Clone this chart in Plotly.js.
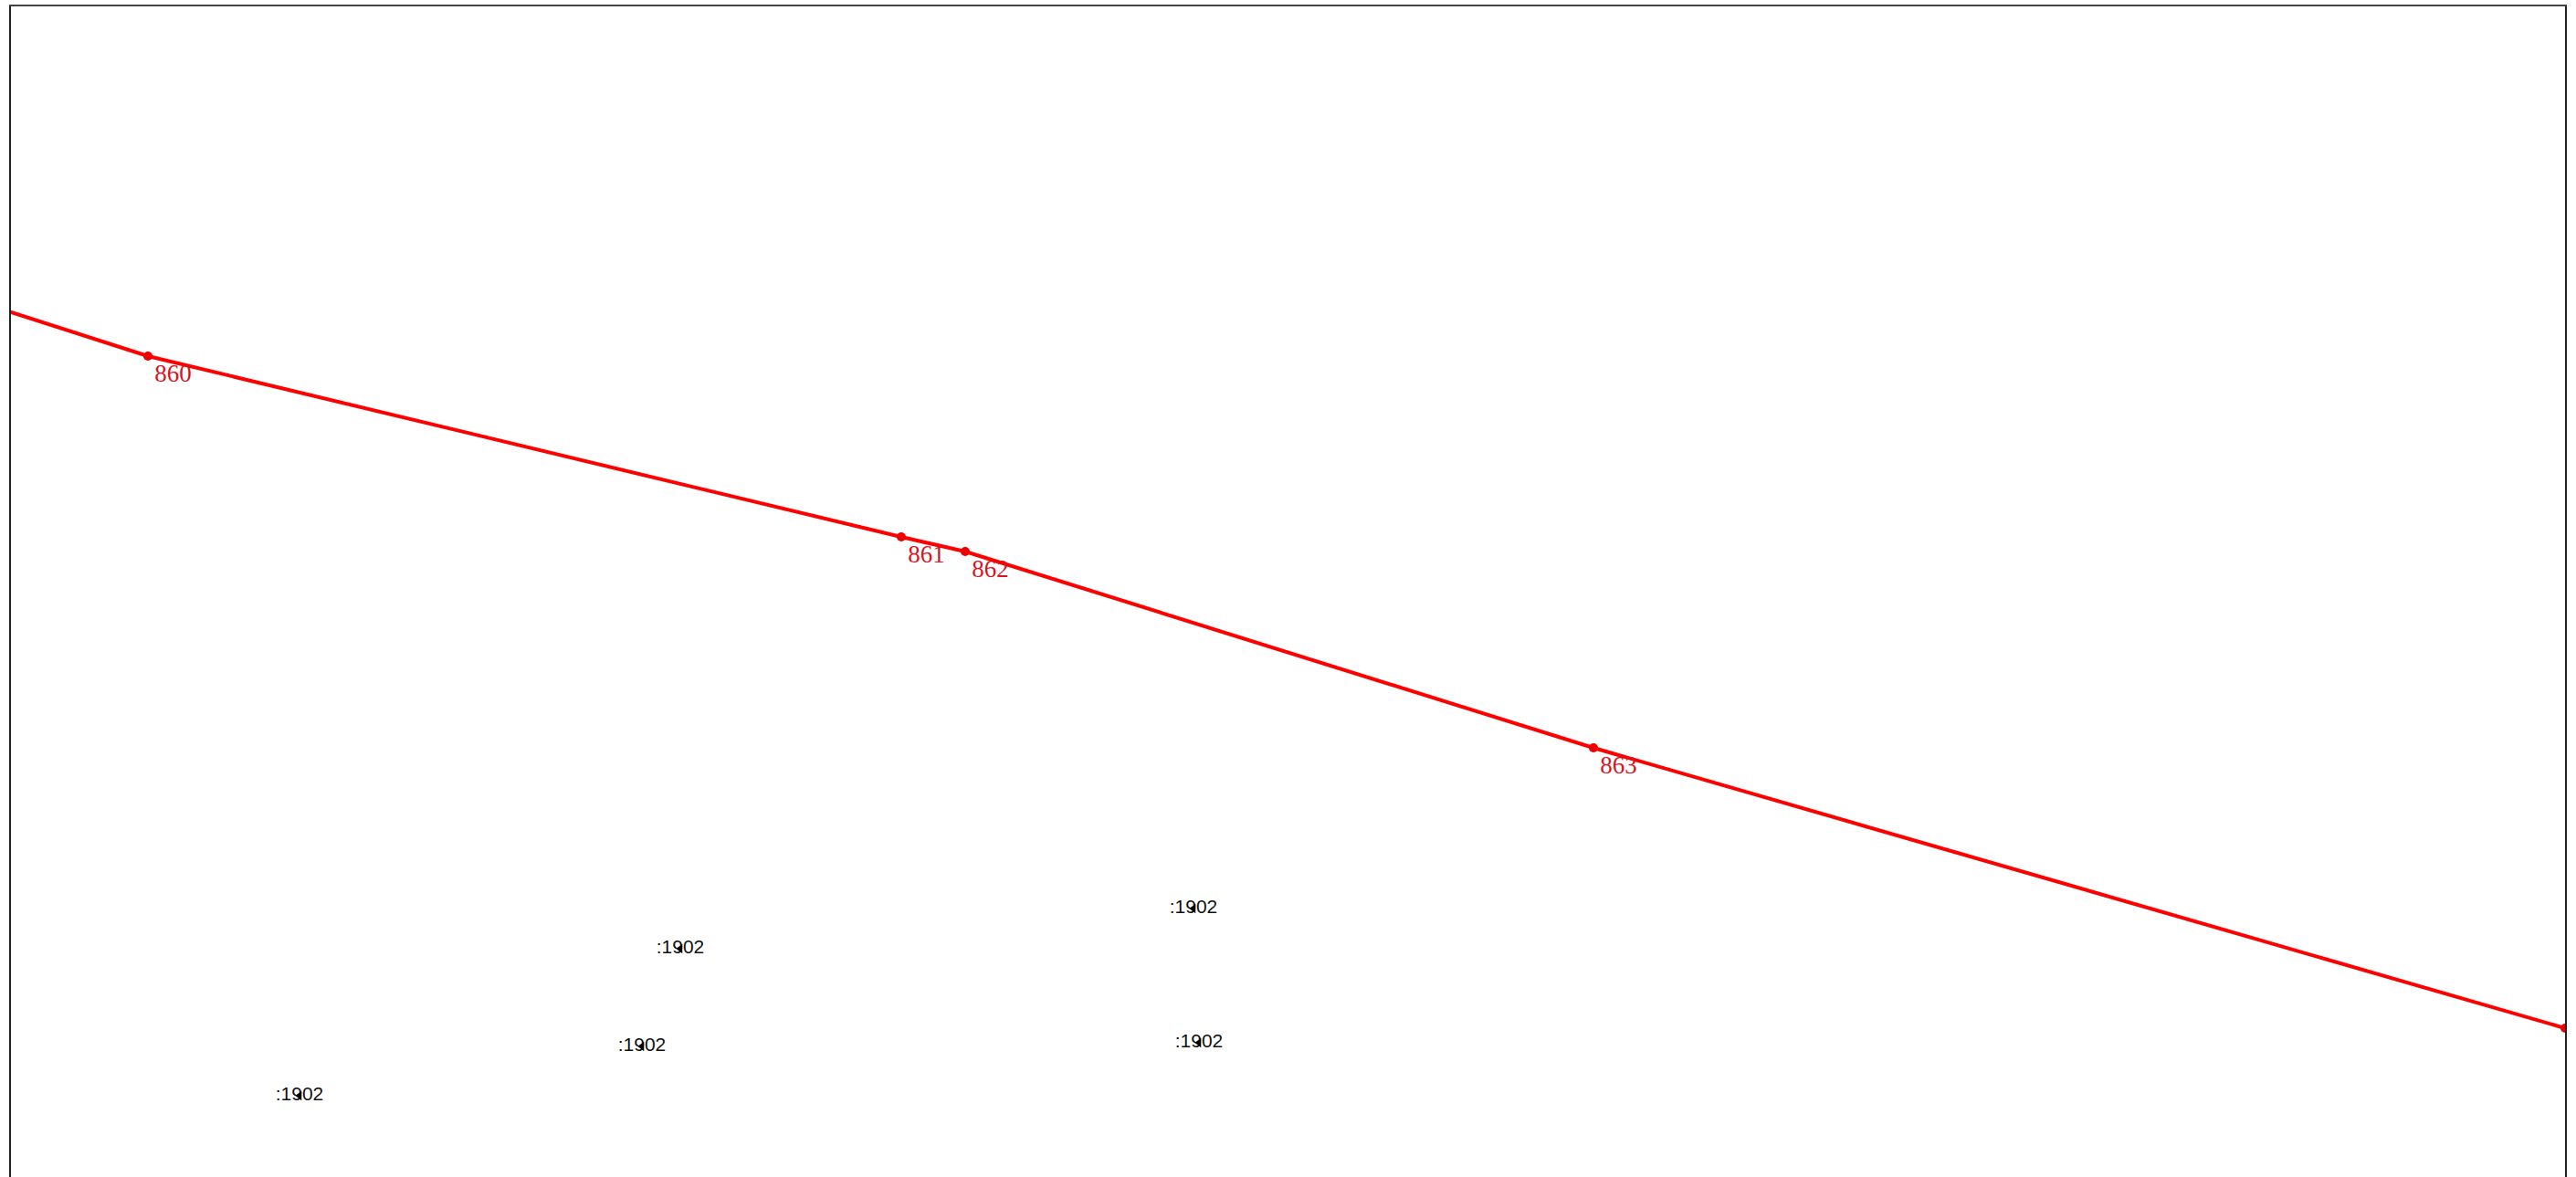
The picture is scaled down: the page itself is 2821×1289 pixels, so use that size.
<!DOCTYPE html>
<html>
<head>
<meta charset="utf-8">
<script src="https://cdn.plot.ly/plotly-3.0.1.min.js"></script>
<style>html,body{margin:0;padding:0;background:#fff;}#chart{width:2821px;height:1289px;}</style>
</head>
<body>
<div id="chart"></div>
<script>
// Red route: positions along the map (map units); first vertex lies just outside the frame
const routeX = [-40, 150, 975, 1045, 1733, 2797];
const routeY = [322, 383, 581, 597, 812, 1119];
const routeLabels = ['', '860', '861', '862', '863', ''];

// Black survey points
const pointX = [316, 733, 1295, 691, 1301];
const pointY = [1193, 1032, 988, 1139, 1135];
const pointLabels = [':1902', ':1902', ':1902', ':1902', ':1902'];

const traces = [
  {
    x: routeX, y: routeY, text: routeLabels,
    type: 'scatter', mode: 'lines+markers+text',
    line: {color: '#ff0000', width: 4},
    marker: {color: '#ee0000', size: 10},
    textposition: 'bottom right',
    textfont: {family: 'Liberation Serif, serif', size: 27, color: '#d8141e'},
    cliponaxis: true, hoverinfo: 'none'
  },
  {
    x: pointX, y: pointY, text: pointLabels,
    type: 'scatter', mode: 'text',
    textposition: 'middle center',
    textfont: {family: 'Liberation Sans, Arial, sans-serif', size: 21, color: '#111'},
    cliponaxis: true, hoverinfo: 'none'
  },
  {
    x: pointX, y: pointY,
    type: 'scatter', mode: 'markers',
    marker: {color: '#000', size: 9, symbol: 'triangle-left'},
    cliponaxis: true, hoverinfo: 'none'
  }
];

const layout = {
  width: 2821, height: 1289,
  margin: {l: 12, r: 12, t: 7, b: 0, pad: 0},
  paper_bgcolor: '#ffffff', plot_bgcolor: '#ffffff',
  showlegend: false,
  xaxis: {range: [0, 2797], side: 'top', showline: true, linecolor: '#444', linewidth: 2,
          mirror: false, showgrid: false, zeroline: false, showticklabels: false, ticks: ''},
  yaxis: {range: [1282, 0], showline: true, linecolor: '#222', linewidth: 2, mirror: true,
          showgrid: false, zeroline: false, showticklabels: false, ticks: ''}
};

Plotly.newPlot('chart', traces, layout, {staticPlot: true, displayModeBar: false});
</script>
</body>
</html>
